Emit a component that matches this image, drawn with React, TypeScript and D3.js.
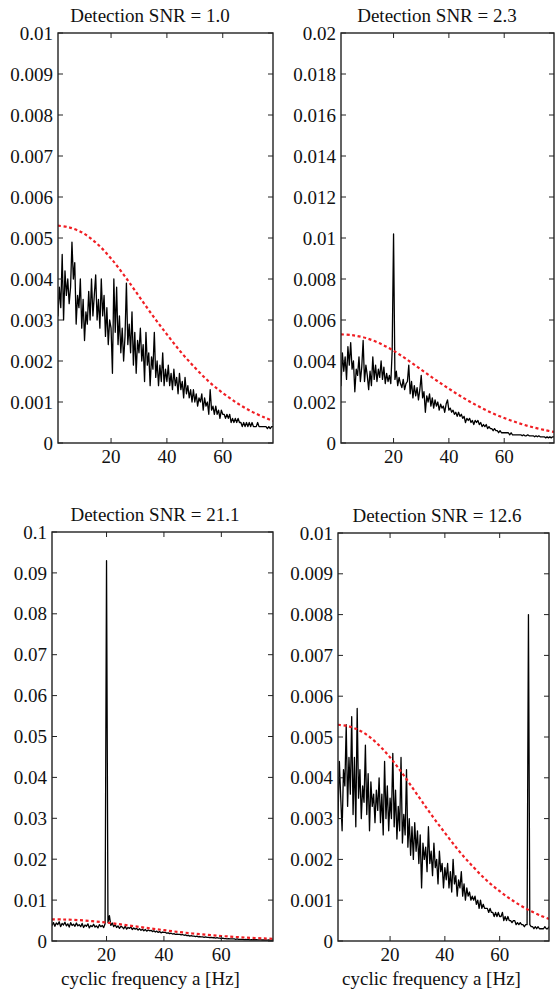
import * as d3 from "d3";

// cyclic frequency grid [Hz], one sample every 0.5 Hz
const alpha = d3.range(0.5, 78.01, 0.5);

// spectra, in units of 1e-4
const snr10 = [
  35, 31, 38, 33, 46, 30, 42, 36, 40, 34,
  38, 49, 40, 44, 29, 36, 33, 40, 28, 35,
  25, 32, 29, 37, 30, 40, 31, 36, 41, 30,
  35, 28, 40, 31, 36, 26, 33, 24, 30, 28,
  17, 40, 27, 38, 24, 31, 22, 28, 20, 26,
  39, 24, 29, 22, 32, 19, 27, 17, 25, 22,
  28, 20, 24, 15, 27, 19, 22, 14, 21, 18,
  27, 16, 20, 14, 19, 15, 22, 14, 18, 15,
  19, 14, 17, 13, 18, 14, 16, 12, 17, 13,
  15, 11, 16, 12, 14, 11, 13, 10, 13, 10,
  12, 9, 11, 10, 12, 8, 11, 9, 10, 7,
  13, 8, 9, 7, 9, 7, 8, 6, 8, 7,
  7, 6, 7, 6, 7, 5, 6, 5, 6, 5,
  6, 5, 5, 4, 5, 4, 5, 4, 5, 4,
  5, 4, 4, 4, 5, 4, 4, 4, 4, 4,
  4, 3.5, 4, 3.5, 4, 4,
];

const snr23 = [
  40, 28, 44, 35, 42, 31, 47, 38, 49, 36,
  40, 25, 36, 33, 42, 30, 37, 50, 30, 38,
  33, 26, 35, 28, 42, 31, 38, 30, 36, 32,
  40, 31, 37, 29, 34, 30, 33, 29, 45, 102,
  31, 35, 28, 32, 29, 27, 31, 26, 29, 30,
  38, 24, 30, 22, 28, 23, 27, 21, 26, 33,
  22, 25, 15, 23, 20, 24, 18, 22, 17, 21,
  18, 20, 16, 19, 17, 18, 15, 19, 21, 16,
  17, 15, 16, 14, 15, 13, 15, 13, 14, 12,
  13, 10, 12, 11, 12, 10, 11, 9, 11, 10,
  11, 9, 10, 8, 9, 8, 9, 7, 8, 7,
  7, 6, 7, 6, 6, 5, 6, 5, 5, 5,
  5, 5, 5, 4, 5, 4, 4, 4, 4, 4,
  4, 4, 3.5, 4, 3.5, 3.5, 4, 3.5, 3.5, 3.5,
  3.5, 3, 3.5, 3, 3.5, 3, 3, 3, 3, 2.5,
  3, 2.5, 3, 2.5, 3, 3,
];

const snr211 = [
  42, 38, 45, 36, 44, 40, 47, 35, 43, 39,
  46, 37, 42, 34, 45, 38, 41, 36, 44, 37,
  40, 35, 43, 33, 39, 36, 42, 32, 38, 35,
  41, 34, 37, 32, 40, 35, 38, 33, 42, 930,
  45, 62, 38, 44, 35, 40, 33, 37, 31, 36,
  34, 30, 36, 29, 33, 31, 34, 28, 32, 29,
  31, 27, 30, 26, 29, 25, 28, 24, 27, 25,
  26, 23, 25, 22, 24, 21, 23, 20, 22, 21,
  21, 19, 20, 18, 19, 17, 18, 16, 17, 16,
  16, 15, 16, 14, 15, 13, 14, 12, 13, 12,
  12, 11, 12, 10, 11, 10, 10, 9, 10, 9,
  9, 8, 9, 8, 8, 7, 8, 7, 7, 6,
  7, 6, 6, 5, 6, 5, 5, 5, 5, 4,
  5, 4, 4, 4, 4, 3.5, 4, 3.5, 3.5, 3,
  3.5, 3, 3, 3, 3, 2.5, 3, 2.5, 2.5, 2.5,
  2.5, 2, 2.5, 2, 2, 2,
];

const snr126 = [
  40, 30, 44, 35, 27, 42, 38, 53, 33, 45,
  36, 55, 31, 45, 28, 57, 35, 42, 30, 38,
  34, 48, 31, 41, 27, 39, 33, 36, 29, 37,
  32, 40, 29, 36, 26, 44, 30, 38, 27, 35,
  30, 46, 28, 37, 25, 33, 27, 45, 24, 31,
  26, 42, 23, 30, 21, 28, 20, 29, 22, 27,
  19, 26, 13, 24, 20, 23, 17, 28, 19, 22,
  16, 24, 18, 20, 14, 22, 17, 19, 13, 18,
  15, 19, 13, 17, 12, 20, 14, 16, 11, 15,
  13, 17, 11, 14, 10, 13, 11, 12, 10, 11,
  10, 11, 9, 10, 8, 10, 8, 9, 8, 8,
  8, 7, 8, 7, 7, 6, 7, 6, 7, 6,
  6, 7, 5, 6, 5, 6, 5, 5, 4.5, 5,
  5, 4, 4.5, 4, 4.5, 4, 4, 3.5, 4, 4,
  80, 4, 3.5, 3.5, 3, 3.5, 3, 3.5, 3, 3,
  3, 3, 3.5, 3, 3, 3.5,
];

// detection threshold (red dashed), units of 1e-4
const thrAlpha = [1, 5, 10, 15, 20, 25, 30, 35, 40, 45, 50, 55, 60, 65, 70, 75, 78];
const thrValue = [53, 52.6, 51.2, 48.6, 45, 40.6, 35.8, 31, 26.5, 22.2, 18.4, 15, 12.2, 9.8, 7.8, 6.2, 5.4];

const titles = [
  "Detection SNR = 1.0",
  "Detection SNR = 2.3",
  "Detection SNR = 21.1",
  "Detection SNR = 12.6",
];
const yMaxes = [0.01, 0.02, 0.1, 0.01];
const xTicks = [20, 40, 60];
const xLabel = "cyclic frequency a [Hz]";

const FONT = "'Liberation Serif', 'Times New Roman', serif";
const FS = 19;

const panels = [
  { title: titles[0], values: snr10, yMax: yMaxes[0], left: 58, right: 273, top: 33, bottom: 443, titleX: 150, xl: false },
  { title: titles[1], values: snr23, yMax: yMaxes[1], left: 341, right: 554, top: 33, bottom: 443, titleX: 437, xl: false },
  { title: titles[2], values: snr211, yMax: yMaxes[2], left: 52, right: 273, top: 532, bottom: 941, titleX: 155, xl: true },
  { title: titles[3], values: snr126, yMax: yMaxes[3], left: 338, right: 549, top: 533, bottom: 941, titleX: 437, xl: true },
];

function Panel({ p, idx }: { p: (typeof panels)[number]; idx: number }) {
  const x = d3.scaleLinear().domain([1, 78]).range([p.left, p.right]);
  const y = d3.scaleLinear().domain([0, p.yMax]).range([p.bottom, p.top]);

  const spectrum = d3
    .line<number>()
    .x((_, i) => x(alpha[i]))
    .y((d) => y(d * 1e-4));

  const threshold = d3
    .line<number>()
    .x((_, i) => x(thrAlpha[i]))
    .y((d) => y(d * 1e-4))
    .curve(d3.curveCatmullRom);

  const yTicks = y.ticks(10);
  const fmt = d3.format("~g");
  const clipId = `clip${idx}`;
  const tk = 5;

  return (
    <g>
      <defs>
        <clipPath id={clipId}>
          <rect x={p.left} y={p.top} width={p.right - p.left} height={p.bottom - p.top} />
        </clipPath>
      </defs>

      <text x={p.titleX} y={p.top - 11} textAnchor="middle" fontSize={FS} fontFamily={FONT} fill="#111">
        {p.title}
      </text>

      <g clipPath={`url(#${clipId})`}>
        <path d={spectrum(p.values) ?? ""} fill="none" stroke="#000" strokeWidth={1.3} strokeLinejoin="round" />
        <path
          d={threshold(thrValue) ?? ""}
          fill="none"
          stroke="#f01e23"
          strokeWidth={2.2}
          strokeDasharray="3,2.6"
        />
      </g>

      {/* y ticks and labels */}
      {yTicks.map((t) => (
        <g key={`y${t}`}>
          <line x1={p.left} x2={p.left + tk} y1={y(t)} y2={y(t)} stroke="#222" strokeWidth={1} />
          <line x1={p.right - tk} x2={p.right} y1={y(t)} y2={y(t)} stroke="#222" strokeWidth={1} />
          <text x={p.left - 5} y={y(t)} dy="0.35em" textAnchor="end" fontSize={FS} fontFamily={FONT} fill="#111">
            {fmt(t)}
          </text>
        </g>
      ))}

      {/* x ticks and labels */}
      {xTicks.map((t) => (
        <g key={`x${t}`}>
          <line x1={x(t)} x2={x(t)} y1={p.bottom} y2={p.bottom - tk} stroke="#222" strokeWidth={1} />
          <line x1={x(t)} x2={x(t)} y1={p.top} y2={p.top + tk} stroke="#222" strokeWidth={1} />
          <text x={x(t)} y={p.bottom + 20} textAnchor="middle" fontSize={FS} fontFamily={FONT} fill="#111">
            {t}
          </text>
        </g>
      ))}

      <rect
        x={p.left}
        y={p.top}
        width={p.right - p.left}
        height={p.bottom - p.top}
        fill="none"
        stroke="#222"
        strokeWidth={1.4}
      />

      {p.xl && (
        <text
          x={(p.left + p.right) / 2 - 12}
          y={p.bottom + 44}
          textAnchor="middle"
          fontSize={FS}
          fontFamily={FONT}
          fill="#111"
        >
          {xLabel}
        </text>
      )}
    </g>
  );
}

export default function App() {
  return (
    <svg
      width={555}
      height={993}
      style={{ position: "absolute", left: 0, top: 0, background: "#fff" }}
    >
      <rect width={555} height={993} fill="#fff" />
      {panels.map((p, i) => (
        <Panel key={i} p={p} idx={i} />
      ))}
    </svg>
  );
}
